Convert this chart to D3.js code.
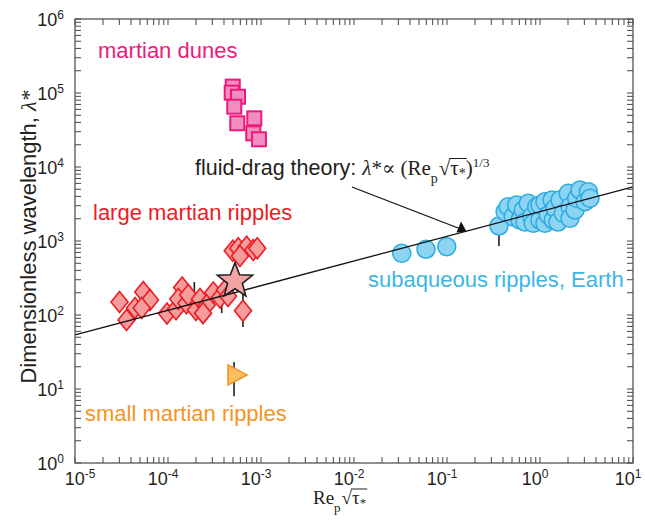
<!DOCTYPE html>
<html><head><meta charset="utf-8">
<script src="https://cdn.jsdelivr.net/npm/d3@7/dist/d3.min.js"></script>
<style>body{margin:0;background:#fff}</style>
</head><body>
<svg id="c" width="645" height="520"></svg>
<script>
// ---- data ----
const xTickExps = [-5, -4, -3, -2, -1, 0, 1];
const yTickExps = [0, 1, 2, 3, 4, 5, 6];

const duneX = [4.97e-4, 4.84e-4, 5.66e-4, 5.16e-4, 5.56e-4, 8.47e-4, 8.26e-4, 9.5e-4];
const duneY = [1.22e5, 1.01e5, 8.9e4, 6.53e4, 3.9e4, 4.55e4, 2.85e4, 2.37e4];

const rippleX = [3.01e-5, 3.58e-5, 4.42e-5, 5.42e-5, 6.4e-5, 5.21e-5, 9.75e-5, 1.22e-4, 1.42e-4,
  1.29e-4, 1.58e-4, 1.65e-4, 2.0e-4, 2.21e-4, 2.61e-4, 3.07e-4, 3.62e-4, 4.1e-4,
  4.97e-4, 5.7e-4, 7.0e-4, 8.26e-4, 9.12e-4, 5.94e-4, 6.4e-4, 2.38e-4, 4.42e-4];
const rippleY = [150, 85.6, 124, 205, 160, 124, 105, 120, 235,
  165, 144, 186, 117, 165, 137, 201, 172, 218,
  739, 797, 838, 756, 797, 627, 114, 106, 181];

const smallRippleX = [5.13e-4];
const smallRippleY = [15.5];

const starX = [5.25e-4];
const starY = [288];

const waterX = [0.0326, 0.0594, 0.0993, 0.362,
  0.421, 0.456, 0.516, 0.561, 0.610, 0.661, 0.69, 0.748, 0.815, 0.847, 0.922, 1.0, 1.0,
  1.13, 1.13, 1.23, 1.35, 1.39, 1.45, 1.56, 1.64, 1.78, 2.01, 2.10, 2.10, 2.38, 2.48,
  2.69, 3.05, 3.31, 3.45];
const waterY = [682, 773, 838, 1595,
  2489, 2909, 2130, 3064, 1923, 2624, 1806, 3231, 2130, 1735, 2909, 1923, 3064,
  3396, 1735, 2245, 3581, 1923, 2767, 1806, 3581, 2367, 4411, 2909, 2027, 2624, 3776,
  4888, 3396, 4637, 3776];

// error bars: x, low, high
const errX = [1.92e-4, 3.78e-4, 6.4e-4, 5.13e-4, 0.362];
const errLo = [91, 106, 68.9, 8.0, 856];
const errHi = [279, 254, 198, 23.2, 2390];

// theory line end points
const theoryX = [1e-5, 10];
const theoryY = [53.7, 5370];

// annotation arrow (data coords)
const arrowX = [9.5e-3, 0.145];
const arrowY = [5370, 1344];

// ---- chart ----
const svg = d3.select("#c");
const x = d3.scaleLog().domain([1e-5, 10]).range([75, 633]);
const y = d3.scaleLog().domain([1, 1e6]).range([463, 19]);
const [X0, X1] = x.range();
const [Y0, Y1] = y.range();
const axisColor = "#555";
const SANS = "'Liberation Sans', Arial, Helvetica, sans-serif";
const SERIF = "'Liberation Serif', 'Times New Roman', 'DejaVu Serif', serif";
const ink = "#231f20";

// error bars
svg.append("g").selectAll("line").data(errX).join("line")
  .attr("x1", d => x(d)).attr("x2", d => x(d))
  .attr("y1", (d, i) => y(errLo[i])).attr("y2", (d, i) => y(errHi[i]))
  .attr("stroke", ink).attr("stroke-width", 1.6);

// dunes (squares)
const sq = 14;
svg.append("g").selectAll("rect").data(duneX).join("rect")
  .attr("x", d => x(d) - sq / 2).attr("y", (d, i) => y(duneY[i]) - sq / 2)
  .attr("width", sq).attr("height", sq)
  .attr("fill", "#f28dbf").attr("stroke", "#ec1a7c").attr("stroke-width", 2);

// large ripples (diamonds)
svg.append("g").selectAll("path").data(rippleX).join("path")
  .attr("transform", (d, i) => `translate(${x(d)},${y(rippleY[i])})`)
  .attr("d", "M0,-10.5L8.5,0L0,10.5L-8.5,0Z")
  .attr("fill", "#f59c9c").attr("stroke", "#ed1c24").attr("stroke-width", 1.6);

// small ripples (triangle)
svg.append("g").selectAll("path").data(smallRippleX).join("path")
  .attr("transform", (d, i) => `translate(${x(d)},${y(smallRippleY[i])})`)
  .attr("d", "M-6,-10L13,0L-6,10Z")
  .attr("fill", "#fdbe63").attr("stroke", "#f7941d").attr("stroke-width", 1.6);

// subaqueous (circles)
svg.append("g").selectAll("circle").data(waterX).join("circle")
  .attr("cx", d => x(d)).attr("cy", (d, i) => y(waterY[i])).attr("r", 9)
  .attr("fill", "#8dd4f3").attr("stroke", "#29ace3").attr("stroke-width", 1.5);

// theory line
svg.append("line")
  .attr("x1", x(theoryX[0])).attr("y1", y(theoryY[0]))
  .attr("x2", x(theoryX[1])).attr("y2", y(theoryY[1]))
  .attr("stroke", "#111").attr("stroke-width", 1.3);

// star
const starPath = (() => {
  const R = 18.5, r = 7.8; let p = "";
  for (let k = 0; k < 10; k++) {
    const a = -Math.PI / 2 + k * Math.PI / 5;
    const rr = k % 2 ? r : R;
    p += (k ? "L" : "M") + (rr * Math.cos(a)).toFixed(2) + "," + (rr * Math.sin(a)).toFixed(2);
  }
  return p + "Z";
})();
svg.append("g").selectAll("path").data(starX).join("path")
  .attr("transform", (d, i) => `translate(${x(d)},${y(starY[i])})`)
  .attr("d", starPath).attr("fill", "#f4a3a3").attr("stroke", "#231f20").attr("stroke-width", 1.6);

// arrow
const ax0 = x(arrowX[0]), ay0 = y(arrowY[0]), ax1 = x(arrowX[1]), ay1 = y(arrowY[1]);
svg.append("line").attr("x1", ax0).attr("y1", ay0).attr("x2", ax1).attr("y2", ay1 - 2)
  .attr("stroke", "#111").attr("stroke-width", 1.3);
svg.append("path")
  .attr("d", `M${ax1 - 1},${ay1 - 10}L${ax1 + 4.5},${ay1}L${ax1 - 5.5},${ay1 + 1}Z`)
  .attr("fill", "#111");

// frame + ticks
svg.append("rect").attr("x", X0).attr("y", Y1).attr("width", X1 - X0).attr("height", Y0 - Y1)
  .attr("fill", "none").attr("stroke", axisColor).attr("stroke-width", 1.3);
const tl = 6;
const gt = svg.append("g").attr("stroke", axisColor).attr("stroke-width", 1.1);
x.ticks().forEach(t => {
  const px = x(t);
  gt.append("line").attr("x1", px).attr("x2", px).attr("y1", Y0).attr("y2", Y0 - tl);
  gt.append("line").attr("x1", px).attr("x2", px).attr("y1", Y1).attr("y2", Y1 + tl);
});
y.ticks().forEach(t => {
  const py = y(t);
  gt.append("line").attr("y1", py).attr("y2", py).attr("x1", X0).attr("x2", X0 + tl);
  gt.append("line").attr("y1", py).attr("y2", py).attr("x1", X1).attr("x2", X1 - tl);
});

function powLabel(px, py, e, anchor) {
  const t = svg.append("text").attr("x", px).attr("y", py).attr("text-anchor", anchor)
    .attr("font-family", SANS).attr("font-size", 18).attr("fill", ink);
  t.append("tspan").text("10");
  t.append("tspan").attr("font-size", 12).attr("dy", -7).text(String(e));
}
xTickExps.forEach(e => powLabel(x(Math.pow(10, e)) - (e === -5 ? -5 : 5), 485, e, "middle"));
yTickExps.forEach(e => powLabel(64, y(Math.pow(10, e)) + 6.5, e, "end"));

// rich text helper
function rich(x0, y0, parts) {
  let cx = x0; const boxes = [];
  parts.forEach(p => {
    const t = svg.append("text").attr("x", cx).attr("y", y0 + (p.dy || 0))
      .attr("font-family", p.serif ? SERIF : SANS).attr("font-size", p.size)
      .attr("font-style", p.italic ? "italic" : "normal").attr("fill", ink).text(p.t);
    const w = t.node().getComputedTextLength();
    boxes.push({ x: cx, w });
    cx += w + (p.gap || 0);
  });
  return boxes;
}

// annotation text
const ab = rich(195, 175, [
  { t: "fluid-drag theory:", size: 21.5, gap: 6 },
  { t: "λ", size: 21, serif: true, italic: true },
  { t: "*", size: 21, serif: true },
  { t: "∝", size: 20, serif: true, gap: 5 },
  { t: "(Re", size: 21, serif: true },
  { t: "p", size: 14, serif: true, dy: 8, gap: 1 },
  { t: "√", size: 21, serif: true },
  { t: "τ", size: 21, serif: true },
  { t: "*", size: 14, serif: true, dy: 3 },
  { t: ")", size: 21, serif: true },
  { t: "1/3", size: 13, serif: true, dy: -8 }
]);
svg.append("line").attr("x1", ab[6].x + ab[6].w - 1).attr("x2", ab[8].x + ab[8].w + 1)
  .attr("y1", 175 - 16.5).attr("y2", 175 - 16.5).attr("stroke", ink).attr("stroke-width", 1);

// x-axis title
const xb = rich(313, 504, [
  { t: "Re", size: 19, serif: true },
  { t: "p", size: 13, serif: true, dy: 8, gap: 1 },
  { t: "√", size: 19, serif: true },
  { t: "τ", size: 19, serif: true },
  { t: "*", size: 13, serif: true, dy: 3 }
]);
svg.append("line").attr("x1", xb[2].x + xb[2].w - 1).attr("x2", xb[4].x + xb[4].w + 1)
  .attr("y1", 504 - 15).attr("y2", 504 - 15).attr("stroke", ink).attr("stroke-width", 1);

// y-axis title
const yt = svg.append("text").attr("transform", "translate(36,237) rotate(-90)")
  .attr("text-anchor", "middle").attr("font-family", SANS).attr("font-size", 22).attr("fill", ink);
yt.append("tspan").text("Dimensionless wavelength, ");
yt.append("tspan").attr("font-family", SERIF).attr("font-style", "italic").text("λ*");

// group labels
const labels = [
  { t: "martian dunes", x: 98, y: 58, c: "#ec1a7c" },
  { t: "large martian ripples", x: 93, y: 220, c: "#ed1c24" },
  { t: "small martian ripples", x: 85, y: 421, c: "#f7941d" },
  { t: "subaqueous ripples, Earth", x: 368, y: 287, c: "#3cb6e6" }
];
labels.forEach(l => svg.append("text").attr("x", l.x).attr("y", l.y)
  .attr("font-family", SANS).attr("font-size", 22).attr("fill", l.c).text(l.t));
</script>
</body></html>
